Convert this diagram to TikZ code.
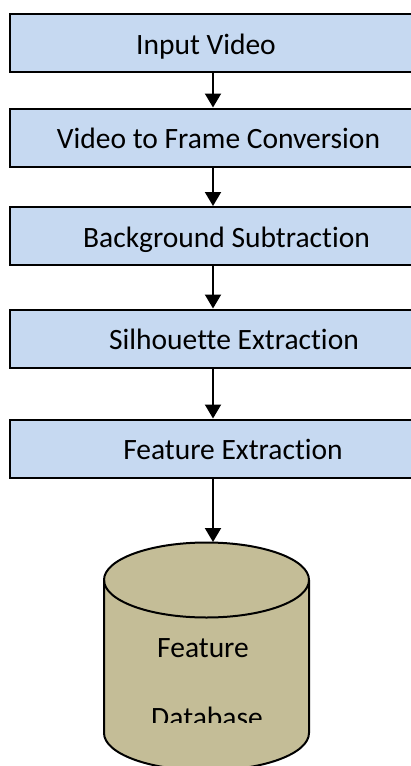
\documentclass[tikz,border=0pt]{standalone}
\usepackage{fontspec}
\setmainfont[Ligatures=NoCommon]{Carlito}
\usetikzlibrary{arrows.meta}
\definecolor{stageblue}{HTML}{C6D9F1}
\definecolor{dbtan}{HTML}{C4BD97}

\begin{document}
\begin{tikzpicture}[x=1pt, y=1pt, line width=2pt,
  stage/.style={draw, fill=stageblue, minimum width=406pt, minimum height=58pt, inner sep=0pt},
  caption/.style={font=\fontsize{29.5}{35}\selectfont, inner sep=0pt, anchor=base},
  flow/.style={-{Triangle[width=16pt,length=14pt]}}]
\useasboundingbox (0,0) rectangle (411,-766);
\clip (0,0) rectangle (411,-766);

\node [stage] (input)  at (213,-43)    {};
\node [stage] (frames) at (213,-137.5) {};
\node [stage] (bgsub)  at (213,-236)   {};
\node [stage] (silh)   at (213,-338.5) {};
\node [stage] (feat)   at (213,-448.5) {};

\node [caption] (input-t)  at (206,-54.5)   {Input Video};
\node [caption] (frames-t) at (218.5,-148.5) {Video to Frame Conversion};
\node [caption] (bgsub-t)  at (226.5,-247) {Background Subtraction};
\node [caption] (silh-t)   at (234,-349.5) {Silhouette Extraction};
\node [caption] (feat-t)   at (233,-459.5) {Feature Extraction};

\fill [dbtan, draw=black] (104,-580) -- (104,-733)
  arc [start angle=180, end angle=360, x radius=102.5, y radius=37.5]
  -- (309,-580)
  arc [start angle=0, end angle=180, x radius=102.5, y radius=37.5] -- cycle;
\draw (104,-580) arc [start angle=180, end angle=360, x radius=102.5, y radius=37.5];
\coordinate (dbtop) at (213,-542);

\node [caption] (db-t1) at (203,-657) {Feature};
\begin{scope}
  \clip (104,-580) rectangle (309,-722);
  \node [caption] (db-t2) at (207,-727) {Database};
\end{scope}

\draw [flow] (input) -- (frames);
\draw [flow] (frames) -- (bgsub);
\draw [flow] (bgsub) -- (silh);
\draw [flow] (silh) -- (feat);
\draw [flow] (feat.south) -- (dbtop);
\end{tikzpicture}
\end{document}
